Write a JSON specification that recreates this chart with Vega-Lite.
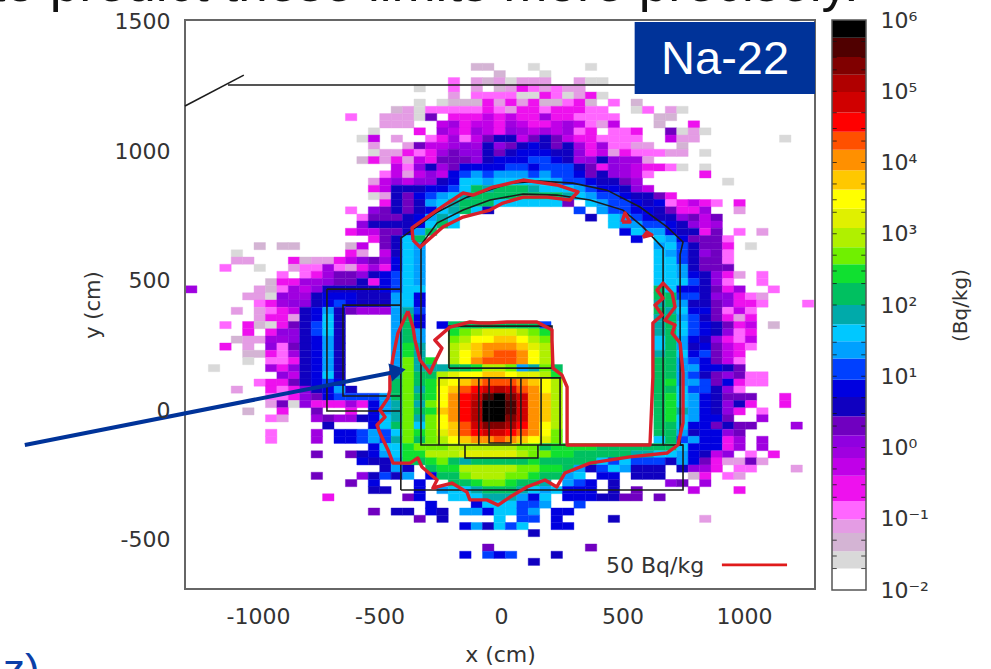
{"$schema":"https://vega.github.io/schema/vega-lite/v6.json","width":991,"height":669,"autosize":{"type":"none"},"padding":0,"background":"white","config":{"view":{"stroke":null},"font":"DejaVu Sans","axis":{"grid":false}},"resolve":{"scale":{"x":"independent","y":"independent"},"axis":{"x":"independent","y":"independent"}},"layer":[{"layer":[
{"data":{"values":[
{"x":-125,"y":1313,"v":0.05},{"x":-78,"y":1313,"v":0.05},{"x":110,"y":1313,"v":0.025},{"x":345,"y":1313,"v":0.025},
{"x":-31,"y":1285,"v":0.05},{"x":157,"y":1285,"v":0.025},
{"x":-219,"y":1258,"v":0.15},{"x":-125,"y":1258,"v":0.08},{"x":-78,"y":1258,"v":0.05},{"x":-31,"y":1258,"v":0.08},{"x":16,"y":1258,"v":0.025},{"x":63,"y":1258,"v":0.08},{"x":110,"y":1258,"v":0.08},{"x":157,"y":1258,"v":0.08},{"x":298,"y":1258,"v":0.08},{"x":345,"y":1258,"v":0.025},{"x":392,"y":1258,"v":0.025},
{"x":-360,"y":1230,"v":0.025},{"x":-219,"y":1230,"v":0.15},{"x":-125,"y":1230,"v":0.08},{"x":-31,"y":1230,"v":0.05},{"x":16,"y":1230,"v":0.08},{"x":63,"y":1230,"v":0.3},{"x":110,"y":1230,"v":0.15},{"x":157,"y":1230,"v":0.08},{"x":204,"y":1230,"v":0.15},{"x":251,"y":1230,"v":0.08},{"x":298,"y":1230,"v":0.08},
{"x":-219,"y":1202,"v":0.08},{"x":-125,"y":1202,"v":0.15},{"x":-78,"y":1202,"v":0.15},{"x":-31,"y":1202,"v":0.15},{"x":16,"y":1202,"v":0.15},{"x":63,"y":1202,"v":0.025},{"x":110,"y":1202,"v":0.025},{"x":157,"y":1202,"v":0.3},{"x":204,"y":1202,"v":0.15},{"x":251,"y":1202,"v":0.025},{"x":298,"y":1202,"v":0.08},{"x":345,"y":1202,"v":0.3},{"x":392,"y":1202,"v":0.025},
{"x":-360,"y":1175,"v":0.025},{"x":-266,"y":1175,"v":0.025},{"x":-219,"y":1175,"v":0.05},{"x":-172,"y":1175,"v":0.05},{"x":-125,"y":1175,"v":0.05},{"x":-78,"y":1175,"v":0.3},{"x":-31,"y":1175,"v":0.08},{"x":16,"y":1175,"v":0.3},{"x":63,"y":1175,"v":0.08},{"x":110,"y":1175,"v":0.3},{"x":157,"y":1175,"v":0.05},{"x":204,"y":1175,"v":0.05},{"x":251,"y":1175,"v":0.15},{"x":298,"y":1175,"v":0.3},{"x":345,"y":1175,"v":0.05},{"x":439,"y":1175,"v":0.15},{"x":533,"y":1175,"v":0.05},
{"x":-454,"y":1147,"v":0.05},{"x":-407,"y":1147,"v":0.08},{"x":-360,"y":1147,"v":0.025},{"x":-313,"y":1147,"v":0.15},{"x":-266,"y":1147,"v":0.15},{"x":-219,"y":1147,"v":0.15},{"x":-172,"y":1147,"v":0.15},{"x":-125,"y":1147,"v":0.15},{"x":-78,"y":1147,"v":0.3},{"x":-31,"y":1147,"v":0.15},{"x":16,"y":1147,"v":0.08},{"x":63,"y":1147,"v":0.3},{"x":110,"y":1147,"v":0.3},{"x":157,"y":1147,"v":0.15},{"x":204,"y":1147,"v":0.3},{"x":251,"y":1147,"v":0.3},{"x":298,"y":1147,"v":0.3},{"x":345,"y":1147,"v":0.15},{"x":392,"y":1147,"v":0.15},{"x":533,"y":1147,"v":0.025},{"x":580,"y":1147,"v":0.15},{"x":674,"y":1147,"v":0.08},{"x":721,"y":1147,"v":0.025},
{"x":-642,"y":1119,"v":0.15},{"x":-501,"y":1119,"v":0.08},{"x":-454,"y":1119,"v":0.08},{"x":-407,"y":1119,"v":0.08},{"x":-360,"y":1119,"v":0.025},{"x":-313,"y":1119,"v":2},{"x":-219,"y":1119,"v":0.3},{"x":-172,"y":1119,"v":0.3},{"x":-125,"y":1119,"v":0.3},{"x":-78,"y":1119,"v":0.5},{"x":-31,"y":1119,"v":0.3},{"x":16,"y":1119,"v":0.5},{"x":63,"y":1119,"v":0.3},{"x":110,"y":1119,"v":0.3},{"x":157,"y":1119,"v":0.8},{"x":204,"y":1119,"v":0.3},{"x":251,"y":1119,"v":0.3},{"x":298,"y":1119,"v":0.15},{"x":345,"y":1119,"v":0.15},{"x":392,"y":1119,"v":0.15},{"x":439,"y":1119,"v":0.15},{"x":627,"y":1119,"v":0.05},{"x":674,"y":1119,"v":0.05},
{"x":-501,"y":1091,"v":0.08},{"x":-454,"y":1091,"v":0.08},{"x":-407,"y":1091,"v":0.08},{"x":-266,"y":1091,"v":0.5},{"x":-219,"y":1091,"v":0.8},{"x":-172,"y":1091,"v":0.3},{"x":-125,"y":1091,"v":0.5},{"x":-78,"y":1091,"v":0.5},{"x":-31,"y":1091,"v":0.3},{"x":16,"y":1091,"v":0.8},{"x":63,"y":1091,"v":0.5},{"x":110,"y":1091,"v":0.3},{"x":157,"y":1091,"v":0.3},{"x":204,"y":1091,"v":0.5},{"x":251,"y":1091,"v":0.8},{"x":298,"y":1091,"v":0.5},{"x":345,"y":1091,"v":0.15},{"x":392,"y":1091,"v":0.08},{"x":439,"y":1091,"v":0.5},{"x":627,"y":1091,"v":0.05},{"x":768,"y":1091,"v":0.3},
{"x":-548,"y":1064,"v":0.025},{"x":-360,"y":1064,"v":0.3},{"x":-266,"y":1064,"v":0.8},{"x":-219,"y":1064,"v":0.5},{"x":-172,"y":1064,"v":0.3},{"x":-125,"y":1064,"v":0.8},{"x":-78,"y":1064,"v":0.5},{"x":-31,"y":1064,"v":0.3},{"x":16,"y":1064,"v":1.2},{"x":63,"y":1064,"v":0.8},{"x":110,"y":1064,"v":0.5},{"x":157,"y":1064,"v":0.8},{"x":204,"y":1064,"v":0.5},{"x":251,"y":1064,"v":0.8},{"x":298,"y":1064,"v":0.15},{"x":345,"y":1064,"v":0.3},{"x":439,"y":1064,"v":0.15},{"x":486,"y":1064,"v":0.15},{"x":533,"y":1064,"v":0.3},{"x":674,"y":1064,"v":2},{"x":721,"y":1064,"v":0.025},{"x":768,"y":1064,"v":0.08},{"x":815,"y":1064,"v":0.025},
{"x":-595,"y":1036,"v":0.025},{"x":-548,"y":1036,"v":0.5},{"x":-454,"y":1036,"v":0.08},{"x":-313,"y":1036,"v":0.15},{"x":-266,"y":1036,"v":0.3},{"x":-219,"y":1036,"v":0.8},{"x":-172,"y":1036,"v":0.15},{"x":-125,"y":1036,"v":0.5},{"x":-78,"y":1036,"v":2},{"x":-31,"y":1036,"v":4},{"x":16,"y":1036,"v":4},{"x":63,"y":1036,"v":0.5},{"x":110,"y":1036,"v":2},{"x":157,"y":1036,"v":4},{"x":204,"y":1036,"v":2},{"x":251,"y":1036,"v":0.5},{"x":298,"y":1036,"v":0.3},{"x":345,"y":1036,"v":0.3},{"x":392,"y":1036,"v":0.15},{"x":439,"y":1036,"v":0.15},{"x":486,"y":1036,"v":0.15},{"x":533,"y":1036,"v":0.15},{"x":674,"y":1036,"v":0.5},{"x":721,"y":1036,"v":0.08},{"x":768,"y":1036,"v":0.08},{"x":1144,"y":1036,"v":0.025},
{"x":-548,"y":1008,"v":0.08},{"x":-407,"y":1008,"v":0.08},{"x":-360,"y":1008,"v":2},{"x":-313,"y":1008,"v":0.5},{"x":-266,"y":1008,"v":0.5},{"x":-219,"y":1008,"v":0.8},{"x":-172,"y":1008,"v":1.2},{"x":-125,"y":1008,"v":0.8},{"x":-78,"y":1008,"v":4},{"x":-31,"y":1008,"v":1.2},{"x":16,"y":1008,"v":2},{"x":63,"y":1008,"v":4},{"x":110,"y":1008,"v":7},{"x":157,"y":1008,"v":4},{"x":204,"y":1008,"v":2},{"x":251,"y":1008,"v":4},{"x":298,"y":1008,"v":0.8},{"x":345,"y":1008,"v":0.3},{"x":392,"y":1008,"v":0.8},{"x":439,"y":1008,"v":0.15},{"x":486,"y":1008,"v":0.15},{"x":533,"y":1008,"v":0.08},{"x":580,"y":1008,"v":0.08},{"x":721,"y":1008,"v":0.05},
{"x":-548,"y":981,"v":0.025},{"x":-501,"y":981,"v":0.08},{"x":-454,"y":981,"v":0.08},{"x":-407,"y":981,"v":0.3},{"x":-360,"y":981,"v":0.15},{"x":-313,"y":981,"v":0.3},{"x":-266,"y":981,"v":0.8},{"x":-219,"y":981,"v":2},{"x":-172,"y":981,"v":1.2},{"x":-125,"y":981,"v":1.2},{"x":-78,"y":981,"v":4},{"x":-31,"y":981,"v":2},{"x":16,"y":981,"v":4},{"x":63,"y":981,"v":7},{"x":110,"y":981,"v":7},{"x":157,"y":981,"v":7},{"x":204,"y":981,"v":4},{"x":251,"y":981,"v":4},{"x":298,"y":981,"v":1.2},{"x":345,"y":981,"v":0.3},{"x":392,"y":981,"v":0.5},{"x":439,"y":981,"v":0.08},{"x":486,"y":981,"v":0.3},{"x":533,"y":981,"v":0.15},{"x":580,"y":981,"v":0.15},{"x":627,"y":981,"v":0.15},{"x":674,"y":981,"v":0.08},{"x":721,"y":981,"v":0.08},{"x":815,"y":981,"v":0.025},
{"x":-595,"y":953,"v":0.05},{"x":-548,"y":953,"v":0.3},{"x":-501,"y":953,"v":0.08},{"x":-454,"y":953,"v":0.3},{"x":-407,"y":953,"v":0.08},{"x":-360,"y":953,"v":0.5},{"x":-313,"y":953,"v":0.3},{"x":-266,"y":953,"v":2},{"x":-219,"y":953,"v":2},{"x":-172,"y":953,"v":2},{"x":-125,"y":953,"v":1.2},{"x":-78,"y":953,"v":4},{"x":-31,"y":953,"v":7},{"x":16,"y":953,"v":7},{"x":63,"y":953,"v":7},{"x":110,"y":953,"v":13},{"x":157,"y":953,"v":13},{"x":204,"y":953,"v":7},{"x":251,"y":953,"v":4},{"x":298,"y":953,"v":0.8},{"x":345,"y":953,"v":1.2},{"x":392,"y":953,"v":4},{"x":439,"y":953,"v":1.2},{"x":486,"y":953,"v":0.8},{"x":533,"y":953,"v":0.8},{"x":580,"y":953,"v":0.08},
{"x":-454,"y":925,"v":0.5},{"x":-407,"y":925,"v":0.15},{"x":-360,"y":925,"v":1.2},{"x":-313,"y":925,"v":4},{"x":-266,"y":925,"v":0.8},{"x":-219,"y":925,"v":2},{"x":-172,"y":925,"v":7},{"x":-125,"y":925,"v":7},{"x":-78,"y":925,"v":7},{"x":-31,"y":925,"v":7},{"x":16,"y":925,"v":13},{"x":63,"y":925,"v":13},{"x":110,"y":925,"v":7},{"x":157,"y":925,"v":13},{"x":204,"y":925,"v":13},{"x":251,"y":925,"v":13},{"x":298,"y":925,"v":4},{"x":345,"y":925,"v":2},{"x":392,"y":925,"v":0.3},{"x":439,"y":925,"v":1.2},{"x":486,"y":925,"v":0.8},{"x":533,"y":925,"v":0.5},{"x":580,"y":925,"v":0.3},{"x":627,"y":925,"v":0.3},{"x":674,"y":925,"v":0.15},{"x":721,"y":925,"v":0.025},{"x":815,"y":925,"v":0.025},
{"x":-501,"y":898,"v":0.15},{"x":-454,"y":898,"v":0.5},{"x":-407,"y":898,"v":0.08},{"x":-360,"y":898,"v":0.5},{"x":-313,"y":898,"v":1.2},{"x":-266,"y":898,"v":0.5},{"x":-219,"y":898,"v":7},{"x":-172,"y":898,"v":13},{"x":-125,"y":898,"v":22},{"x":-78,"y":898,"v":13},{"x":-31,"y":898,"v":22},{"x":16,"y":898,"v":22},{"x":63,"y":898,"v":22},{"x":110,"y":898,"v":13},{"x":157,"y":898,"v":22},{"x":204,"y":898,"v":13},{"x":251,"y":898,"v":13},{"x":298,"y":898,"v":7},{"x":345,"y":898,"v":2},{"x":392,"y":898,"v":4},{"x":439,"y":898,"v":1.2},{"x":486,"y":898,"v":0.8},{"x":533,"y":898,"v":0.5},{"x":580,"y":898,"v":0.15},{"x":815,"y":898,"v":0.3},
{"x":-548,"y":870,"v":0.08},{"x":-501,"y":870,"v":0.5},{"x":-454,"y":870,"v":1.2},{"x":-407,"y":870,"v":0.5},{"x":-360,"y":870,"v":1.2},{"x":-313,"y":870,"v":1.2},{"x":-266,"y":870,"v":4},{"x":-219,"y":870,"v":7},{"x":-172,"y":870,"v":40},{"x":-125,"y":870,"v":40},{"x":-78,"y":870,"v":22},{"x":-31,"y":870,"v":40},{"x":16,"y":870,"v":40},{"x":63,"y":870,"v":40},{"x":110,"y":870,"v":40},{"x":157,"y":870,"v":40},{"x":204,"y":870,"v":22},{"x":251,"y":870,"v":13},{"x":298,"y":870,"v":13},{"x":345,"y":870,"v":7},{"x":392,"y":870,"v":4},{"x":439,"y":870,"v":4},{"x":486,"y":870,"v":2},{"x":533,"y":870,"v":0.8},{"x":909,"y":870,"v":0.025},
{"x":-548,"y":842,"v":0.3},{"x":-501,"y":842,"v":0.5},{"x":-454,"y":842,"v":4},{"x":-407,"y":842,"v":4},{"x":-360,"y":842,"v":4},{"x":-313,"y":842,"v":7},{"x":-266,"y":842,"v":7},{"x":-219,"y":842,"v":13},{"x":-172,"y":842,"v":40},{"x":-125,"y":842,"v":150},{"x":-78,"y":842,"v":70},{"x":-31,"y":842,"v":150},{"x":16,"y":842,"v":150},{"x":63,"y":842,"v":150},{"x":110,"y":842,"v":70},{"x":157,"y":842,"v":40},{"x":204,"y":842,"v":40},{"x":251,"y":842,"v":40},{"x":298,"y":842,"v":22},{"x":345,"y":842,"v":13},{"x":392,"y":842,"v":7},{"x":439,"y":842,"v":7},{"x":486,"y":842,"v":4},{"x":533,"y":842,"v":1.2},{"x":580,"y":842,"v":0.5},
{"x":-548,"y":814,"v":0.025},{"x":-501,"y":814,"v":0.08},{"x":-454,"y":814,"v":4},{"x":-407,"y":814,"v":2},{"x":-360,"y":814,"v":7},{"x":-313,"y":814,"v":13},{"x":-266,"y":814,"v":22},{"x":-219,"y":814,"v":40},{"x":-172,"y":814,"v":70},{"x":-125,"y":814,"v":150},{"x":-78,"y":814,"v":150},{"x":-31,"y":814,"v":150},{"x":16,"y":814,"v":150},{"x":63,"y":814,"v":150},{"x":110,"y":814,"v":150},{"x":157,"y":814,"v":150},{"x":204,"y":814,"v":150},{"x":251,"y":814,"v":70},{"x":298,"y":814,"v":40},{"x":345,"y":814,"v":22},{"x":392,"y":814,"v":13},{"x":439,"y":814,"v":13},{"x":486,"y":814,"v":7},{"x":533,"y":814,"v":4},{"x":580,"y":814,"v":4},{"x":627,"y":814,"v":2},{"x":674,"y":814,"v":0.3},
{"x":-501,"y":787,"v":0.3},{"x":-454,"y":787,"v":4},{"x":-407,"y":787,"v":2},{"x":-360,"y":787,"v":4},{"x":-313,"y":787,"v":22},{"x":-266,"y":787,"v":40},{"x":-219,"y":787,"v":70},{"x":-172,"y":787,"v":150},{"x":-125,"y":787,"v":150},{"x":-78,"y":787,"v":150},{"x":-31,"y":787,"v":40},{"x":16,"y":787,"v":40},{"x":63,"y":787,"v":40},{"x":110,"y":787,"v":40},{"x":157,"y":787,"v":40},{"x":204,"y":787,"v":40},{"x":251,"y":787,"v":2},{"x":345,"y":787,"v":40},{"x":392,"y":787,"v":22},{"x":439,"y":787,"v":13},{"x":486,"y":787,"v":13},{"x":533,"y":787,"v":7},{"x":580,"y":787,"v":4},{"x":627,"y":787,"v":7},{"x":674,"y":787,"v":0.15},{"x":721,"y":787,"v":0.3},{"x":768,"y":787,"v":0.5},{"x":815,"y":787,"v":0.3},{"x":862,"y":787,"v":0.15},{"x":956,"y":787,"v":0.3},
{"x":-642,"y":759,"v":0.15},{"x":-548,"y":759,"v":1.2},{"x":-501,"y":759,"v":2},{"x":-454,"y":759,"v":4},{"x":-407,"y":759,"v":2},{"x":-360,"y":759,"v":4},{"x":-313,"y":759,"v":7},{"x":-266,"y":759,"v":40},{"x":-219,"y":759,"v":70},{"x":-172,"y":759,"v":150},{"x":-125,"y":759,"v":40},{"x":-78,"y":759,"v":4},{"x":298,"y":759,"v":13},{"x":392,"y":759,"v":22},{"x":439,"y":759,"v":13},{"x":486,"y":759,"v":13},{"x":533,"y":759,"v":7},{"x":580,"y":759,"v":7},{"x":627,"y":759,"v":4},{"x":674,"y":759,"v":2},{"x":721,"y":759,"v":0.3},{"x":768,"y":759,"v":0.3},{"x":815,"y":759,"v":0.8},{"x":956,"y":759,"v":0.08},
{"x":-595,"y":731,"v":0.15},{"x":-548,"y":731,"v":2},{"x":-501,"y":731,"v":2},{"x":-454,"y":731,"v":2},{"x":-407,"y":731,"v":4},{"x":-360,"y":731,"v":7},{"x":-313,"y":731,"v":22},{"x":-266,"y":731,"v":70},{"x":-219,"y":731,"v":40},{"x":345,"y":731,"v":4},{"x":439,"y":731,"v":40},{"x":486,"y":731,"v":22},{"x":533,"y":731,"v":13},{"x":580,"y":731,"v":7},{"x":627,"y":731,"v":4},{"x":674,"y":731,"v":4},{"x":721,"y":731,"v":1.2},{"x":768,"y":731,"v":2},{"x":815,"y":731,"v":0.5},{"x":862,"y":731,"v":2},
{"x":-595,"y":704,"v":1.2},{"x":-548,"y":704,"v":4},{"x":-501,"y":704,"v":4},{"x":-454,"y":704,"v":4},{"x":-407,"y":704,"v":4},{"x":-360,"y":704,"v":7},{"x":-313,"y":704,"v":40},{"x":-266,"y":704,"v":150},{"x":-219,"y":704,"v":40},{"x":439,"y":704,"v":40},{"x":486,"y":704,"v":22},{"x":533,"y":704,"v":22},{"x":580,"y":704,"v":13},{"x":627,"y":704,"v":13},{"x":674,"y":704,"v":7},{"x":721,"y":704,"v":4},{"x":768,"y":704,"v":1.2},{"x":815,"y":704,"v":0.5},{"x":862,"y":704,"v":0.8},
{"x":-642,"y":676,"v":0.3},{"x":-595,"y":676,"v":0.5},{"x":-548,"y":676,"v":0.5},{"x":-501,"y":676,"v":2},{"x":-454,"y":676,"v":2},{"x":-407,"y":676,"v":4},{"x":-360,"y":676,"v":22},{"x":-313,"y":676,"v":150},{"x":486,"y":676,"v":7},{"x":533,"y":676,"v":40},{"x":580,"y":676,"v":22},{"x":627,"y":676,"v":22},{"x":674,"y":676,"v":7},{"x":721,"y":676,"v":4},{"x":768,"y":676,"v":4},{"x":815,"y":676,"v":0.3},{"x":862,"y":676,"v":2},{"x":956,"y":676,"v":0.15},{"x":1050,"y":676,"v":0.08},
{"x":-548,"y":648,"v":0.3},{"x":-501,"y":648,"v":2},{"x":-454,"y":648,"v":4},{"x":-407,"y":648,"v":40},{"x":-360,"y":648,"v":150},{"x":533,"y":648,"v":7},{"x":627,"y":648,"v":40},{"x":674,"y":648,"v":22},{"x":721,"y":648,"v":7},{"x":768,"y":648,"v":2},{"x":815,"y":648,"v":2},{"x":862,"y":648,"v":2},{"x":909,"y":648,"v":0.15},
{"x":-1018,"y":621,"v":0.05},{"x":-924,"y":621,"v":0.05},{"x":-877,"y":621,"v":0.05},{"x":-642,"y":621,"v":0.05},{"x":-595,"y":621,"v":0.5},{"x":-501,"y":621,"v":2},{"x":-454,"y":621,"v":4},{"x":-407,"y":621,"v":40},{"x":-360,"y":621,"v":22},{"x":627,"y":621,"v":22},{"x":674,"y":621,"v":40},{"x":721,"y":621,"v":13},{"x":768,"y":621,"v":4},{"x":815,"y":621,"v":2},{"x":862,"y":621,"v":2},{"x":909,"y":621,"v":0.3},{"x":1003,"y":621,"v":0.025},
{"x":-1112,"y":593,"v":0.025},{"x":-642,"y":593,"v":0.3},{"x":-595,"y":593,"v":0.08},{"x":-501,"y":593,"v":0.5},{"x":-454,"y":593,"v":4},{"x":-407,"y":593,"v":40},{"x":-360,"y":593,"v":22},{"x":627,"y":593,"v":40},{"x":674,"y":593,"v":22},{"x":721,"y":593,"v":13},{"x":768,"y":593,"v":4},{"x":815,"y":593,"v":1.2},{"x":862,"y":593,"v":2},{"x":909,"y":593,"v":0.15},
{"x":-1112,"y":565,"v":0.08},{"x":-1065,"y":565,"v":0.08},{"x":-877,"y":565,"v":0.3},{"x":-830,"y":565,"v":0.05},{"x":-783,"y":565,"v":0.08},{"x":-736,"y":565,"v":0.08},{"x":-689,"y":565,"v":0.3},{"x":-642,"y":565,"v":0.5},{"x":-595,"y":565,"v":1.2},{"x":-548,"y":565,"v":2},{"x":-501,"y":565,"v":0.8},{"x":-454,"y":565,"v":7},{"x":-407,"y":565,"v":40},{"x":-360,"y":565,"v":22},{"x":627,"y":565,"v":40},{"x":674,"y":565,"v":40},{"x":721,"y":565,"v":13},{"x":768,"y":565,"v":4},{"x":815,"y":565,"v":2},{"x":862,"y":565,"v":2},{"x":909,"y":565,"v":0.15},
{"x":-1159,"y":537,"v":0.15},{"x":-1018,"y":537,"v":0.025},{"x":-877,"y":537,"v":0.08},{"x":-830,"y":537,"v":0.15},{"x":-783,"y":537,"v":0.15},{"x":-736,"y":537,"v":0.8},{"x":-689,"y":537,"v":0.15},{"x":-642,"y":537,"v":0.08},{"x":-595,"y":537,"v":0.3},{"x":-548,"y":537,"v":0.8},{"x":-501,"y":537,"v":0.3},{"x":-454,"y":537,"v":7},{"x":-407,"y":537,"v":40},{"x":-360,"y":537,"v":22},{"x":627,"y":537,"v":40},{"x":674,"y":537,"v":40},{"x":721,"y":537,"v":22},{"x":768,"y":537,"v":4},{"x":815,"y":537,"v":2},{"x":862,"y":537,"v":2},{"x":909,"y":537,"v":2},
{"x":-924,"y":510,"v":0.15},{"x":-830,"y":510,"v":0.15},{"x":-783,"y":510,"v":0.3},{"x":-736,"y":510,"v":0.8},{"x":-689,"y":510,"v":2},{"x":-642,"y":510,"v":2},{"x":-595,"y":510,"v":1.2},{"x":-548,"y":510,"v":4},{"x":-501,"y":510,"v":7},{"x":-454,"y":510,"v":13},{"x":-407,"y":510,"v":40},{"x":-360,"y":510,"v":22},{"x":627,"y":510,"v":40},{"x":674,"y":510,"v":40},{"x":721,"y":510,"v":22},{"x":768,"y":510,"v":7},{"x":815,"y":510,"v":4},{"x":862,"y":510,"v":1.2},{"x":909,"y":510,"v":0.3},{"x":956,"y":510,"v":0.08},{"x":1050,"y":510,"v":0.15},
{"x":-971,"y":482,"v":0.05},{"x":-924,"y":482,"v":0.3},{"x":-877,"y":482,"v":0.3},{"x":-830,"y":482,"v":0.8},{"x":-783,"y":482,"v":0.8},{"x":-736,"y":482,"v":1.2},{"x":-689,"y":482,"v":2},{"x":-642,"y":482,"v":2},{"x":-595,"y":482,"v":4},{"x":-548,"y":482,"v":0.3},{"x":-501,"y":482,"v":7},{"x":-454,"y":482,"v":13},{"x":-407,"y":482,"v":40},{"x":-360,"y":482,"v":22},{"x":627,"y":482,"v":40},{"x":674,"y":482,"v":40},{"x":721,"y":482,"v":40},{"x":768,"y":482,"v":13},{"x":815,"y":482,"v":4},{"x":862,"y":482,"v":1.2},{"x":909,"y":482,"v":0.15},{"x":1050,"y":482,"v":0.15},
{"x":-1300,"y":454,"v":0.8},{"x":-1018,"y":454,"v":0.08},{"x":-971,"y":454,"v":0.05},{"x":-924,"y":454,"v":0.15},{"x":-877,"y":454,"v":0.8},{"x":-830,"y":454,"v":0.5},{"x":-783,"y":454,"v":1.2},{"x":-736,"y":454,"v":4},{"x":-689,"y":454,"v":4},{"x":-642,"y":454,"v":4},{"x":-595,"y":454,"v":4},{"x":-548,"y":454,"v":4},{"x":-501,"y":454,"v":7},{"x":-454,"y":454,"v":13},{"x":-407,"y":454,"v":40},{"x":-360,"y":454,"v":40},{"x":627,"y":454,"v":150},{"x":674,"y":454,"v":40},{"x":721,"y":454,"v":7},{"x":768,"y":454,"v":7},{"x":815,"y":454,"v":4},{"x":862,"y":454,"v":2},{"x":909,"y":454,"v":0.3},{"x":956,"y":454,"v":0.8},{"x":1097,"y":454,"v":0.15},
{"x":-1065,"y":427,"v":0.08},{"x":-1018,"y":427,"v":0.08},{"x":-971,"y":427,"v":0.025},{"x":-924,"y":427,"v":1.2},{"x":-877,"y":427,"v":0.8},{"x":-830,"y":427,"v":0.8},{"x":-783,"y":427,"v":4},{"x":-736,"y":427,"v":7},{"x":-689,"y":427,"v":7},{"x":-642,"y":427,"v":7},{"x":-595,"y":427,"v":4},{"x":-548,"y":427,"v":4},{"x":-501,"y":427,"v":4},{"x":-454,"y":427,"v":22},{"x":-407,"y":427,"v":40},{"x":-360,"y":427,"v":7},{"x":627,"y":427,"v":150},{"x":674,"y":427,"v":150},{"x":721,"y":427,"v":13},{"x":768,"y":427,"v":13},{"x":815,"y":427,"v":4},{"x":862,"y":427,"v":1.2},{"x":909,"y":427,"v":1.2},{"x":956,"y":427,"v":0.3},{"x":1003,"y":427,"v":0.15},{"x":1050,"y":427,"v":0.08},
{"x":-1018,"y":399,"v":0.15},{"x":-971,"y":399,"v":0.3},{"x":-924,"y":399,"v":0.8},{"x":-877,"y":399,"v":1.2},{"x":-830,"y":399,"v":1.2},{"x":-783,"y":399,"v":4},{"x":-736,"y":399,"v":7},{"x":-689,"y":399,"v":13},{"x":-642,"y":399,"v":7},{"x":-595,"y":399,"v":4},{"x":-548,"y":399,"v":4},{"x":-501,"y":399,"v":4},{"x":-454,"y":399,"v":22},{"x":-407,"y":399,"v":40},{"x":-360,"y":399,"v":7},{"x":627,"y":399,"v":70},{"x":674,"y":399,"v":150},{"x":721,"y":399,"v":22},{"x":768,"y":399,"v":4},{"x":815,"y":399,"v":4},{"x":862,"y":399,"v":2},{"x":909,"y":399,"v":1.2},{"x":956,"y":399,"v":0.3},{"x":1003,"y":399,"v":0.3},{"x":1050,"y":399,"v":0.15},{"x":1238,"y":399,"v":0.15},
{"x":-1112,"y":371,"v":0.08},{"x":-1018,"y":371,"v":0.08},{"x":-971,"y":371,"v":0.15},{"x":-924,"y":371,"v":0.3},{"x":-877,"y":371,"v":0.5},{"x":-830,"y":371,"v":4},{"x":-783,"y":371,"v":7},{"x":-736,"y":371,"v":22},{"x":-689,"y":371,"v":4},{"x":-642,"y":371,"v":2},{"x":-595,"y":371,"v":0.8},{"x":-548,"y":371,"v":0.8},{"x":-501,"y":371,"v":0.8},{"x":-454,"y":371,"v":22},{"x":-407,"y":371,"v":70},{"x":-360,"y":371,"v":13},{"x":627,"y":371,"v":150},{"x":674,"y":371,"v":70},{"x":721,"y":371,"v":40},{"x":768,"y":371,"v":7},{"x":815,"y":371,"v":7},{"x":862,"y":371,"v":2},{"x":909,"y":371,"v":0.15},{"x":956,"y":371,"v":0.5},{"x":1003,"y":371,"v":0.15},
{"x":-1018,"y":344,"v":0.08},{"x":-971,"y":344,"v":0.3},{"x":-924,"y":344,"v":0.3},{"x":-877,"y":344,"v":0.08},{"x":-830,"y":344,"v":4},{"x":-783,"y":344,"v":7},{"x":-736,"y":344,"v":40},{"x":-689,"y":344,"v":4},{"x":-454,"y":344,"v":22},{"x":-407,"y":344,"v":150},{"x":-360,"y":344,"v":7},{"x":627,"y":344,"v":70},{"x":674,"y":344,"v":150},{"x":721,"y":344,"v":22},{"x":768,"y":344,"v":13},{"x":815,"y":344,"v":4},{"x":862,"y":344,"v":2},{"x":909,"y":344,"v":0.3},{"x":956,"y":344,"v":0.08},{"x":1003,"y":344,"v":0.3},
{"x":-1159,"y":316,"v":0.15},{"x":-1065,"y":316,"v":0.3},{"x":-1018,"y":316,"v":0.05},{"x":-971,"y":316,"v":0.025},{"x":-924,"y":316,"v":0.3},{"x":-877,"y":316,"v":2},{"x":-830,"y":316,"v":4},{"x":-783,"y":316,"v":13},{"x":-736,"y":316,"v":40},{"x":-689,"y":316,"v":4},{"x":-454,"y":316,"v":22},{"x":-407,"y":316,"v":150},{"x":-360,"y":316,"v":7},{"x":-266,"y":316,"v":7},{"x":-219,"y":316,"v":150},{"x":-172,"y":316,"v":150},{"x":-125,"y":316,"v":150},{"x":-78,"y":316,"v":150},{"x":-31,"y":316,"v":150},{"x":16,"y":316,"v":150},{"x":63,"y":316,"v":150},{"x":110,"y":316,"v":150},{"x":157,"y":316,"v":13},{"x":627,"y":316,"v":70},{"x":674,"y":316,"v":150},{"x":721,"y":316,"v":40},{"x":768,"y":316,"v":13},{"x":815,"y":316,"v":7},{"x":862,"y":316,"v":4},{"x":909,"y":316,"v":2},{"x":956,"y":316,"v":0.3},{"x":1003,"y":316,"v":0.5},{"x":1097,"y":316,"v":0.05},
{"x":-1065,"y":288,"v":0.3},{"x":-971,"y":288,"v":0.3},{"x":-924,"y":288,"v":1.2},{"x":-877,"y":288,"v":1.2},{"x":-830,"y":288,"v":4},{"x":-783,"y":288,"v":13},{"x":-736,"y":288,"v":40},{"x":-689,"y":288,"v":4},{"x":-454,"y":288,"v":22},{"x":-407,"y":288,"v":150},{"x":-360,"y":288,"v":22},{"x":-219,"y":288,"v":270},{"x":-172,"y":288,"v":500},{"x":-125,"y":288,"v":800},{"x":-78,"y":288,"v":1600},{"x":-31,"y":288,"v":1600},{"x":16,"y":288,"v":1600},{"x":63,"y":288,"v":800},{"x":110,"y":288,"v":500},{"x":157,"y":288,"v":270},{"x":627,"y":288,"v":70},{"x":674,"y":288,"v":150},{"x":721,"y":288,"v":40},{"x":768,"y":288,"v":13},{"x":815,"y":288,"v":7},{"x":862,"y":288,"v":4},{"x":909,"y":288,"v":1.2},{"x":956,"y":288,"v":0.15},{"x":1003,"y":288,"v":0.3},
{"x":-1112,"y":260,"v":0.05},{"x":-1065,"y":260,"v":0.08},{"x":-1018,"y":260,"v":0.08},{"x":-971,"y":260,"v":0.8},{"x":-924,"y":260,"v":0.8},{"x":-877,"y":260,"v":1.2},{"x":-830,"y":260,"v":4},{"x":-783,"y":260,"v":7},{"x":-736,"y":260,"v":22},{"x":-689,"y":260,"v":4},{"x":-454,"y":260,"v":22},{"x":-407,"y":260,"v":150},{"x":-360,"y":260,"v":22},{"x":-219,"y":260,"v":500},{"x":-172,"y":260,"v":800},{"x":-125,"y":260,"v":3000},{"x":-78,"y":260,"v":3000},{"x":-31,"y":260,"v":6000},{"x":16,"y":260,"v":6000},{"x":63,"y":260,"v":3000},{"x":110,"y":260,"v":800},{"x":157,"y":260,"v":500},{"x":627,"y":260,"v":40},{"x":674,"y":260,"v":150},{"x":721,"y":260,"v":22},{"x":768,"y":260,"v":7},{"x":815,"y":260,"v":4},{"x":862,"y":260,"v":1.2},{"x":909,"y":260,"v":0.3},{"x":956,"y":260,"v":0.15},{"x":1003,"y":260,"v":0.5},
{"x":-1159,"y":233,"v":0.3},{"x":-1065,"y":233,"v":0.08},{"x":-971,"y":233,"v":1.2},{"x":-924,"y":233,"v":0.15},{"x":-877,"y":233,"v":2},{"x":-830,"y":233,"v":4},{"x":-783,"y":233,"v":7},{"x":-736,"y":233,"v":22},{"x":-689,"y":233,"v":4},{"x":-454,"y":233,"v":22},{"x":-407,"y":233,"v":270},{"x":-360,"y":233,"v":70},{"x":-219,"y":233,"v":800},{"x":-172,"y":233,"v":1600},{"x":-125,"y":233,"v":6000},{"x":-78,"y":233,"v":10000},{"x":-31,"y":233,"v":10000},{"x":16,"y":233,"v":10000},{"x":63,"y":233,"v":6000},{"x":110,"y":233,"v":1600},{"x":157,"y":233,"v":800},{"x":627,"y":233,"v":40},{"x":674,"y":233,"v":150},{"x":721,"y":233,"v":22},{"x":768,"y":233,"v":4},{"x":815,"y":233,"v":7},{"x":862,"y":233,"v":2},{"x":909,"y":233,"v":0.5},{"x":956,"y":233,"v":0.3},{"x":1003,"y":233,"v":0.15},
{"x":-1065,"y":205,"v":0.05},{"x":-1018,"y":205,"v":0.05},{"x":-971,"y":205,"v":0.3},{"x":-924,"y":205,"v":0.15},{"x":-877,"y":205,"v":0.8},{"x":-830,"y":205,"v":4},{"x":-783,"y":205,"v":7},{"x":-736,"y":205,"v":22},{"x":-689,"y":205,"v":4},{"x":-454,"y":205,"v":22},{"x":-407,"y":205,"v":270},{"x":-360,"y":205,"v":70},{"x":-219,"y":205,"v":800},{"x":-172,"y":205,"v":3000},{"x":-125,"y":205,"v":6000},{"x":-78,"y":205,"v":10000},{"x":-31,"y":205,"v":20000},{"x":16,"y":205,"v":20000},{"x":63,"y":205,"v":10000},{"x":110,"y":205,"v":3000},{"x":157,"y":205,"v":800},{"x":627,"y":205,"v":70},{"x":674,"y":205,"v":150},{"x":721,"y":205,"v":40},{"x":768,"y":205,"v":7},{"x":815,"y":205,"v":13},{"x":862,"y":205,"v":2},{"x":909,"y":205,"v":0.5},{"x":956,"y":205,"v":0.3},
{"x":-1065,"y":177,"v":0.025},{"x":-971,"y":177,"v":0.15},{"x":-924,"y":177,"v":0.15},{"x":-877,"y":177,"v":0.3},{"x":-830,"y":177,"v":4},{"x":-783,"y":177,"v":7},{"x":-736,"y":177,"v":22},{"x":-689,"y":177,"v":4},{"x":-454,"y":177,"v":22},{"x":-407,"y":177,"v":500},{"x":-360,"y":177,"v":70},{"x":-313,"y":177,"v":270},{"x":-219,"y":177,"v":800},{"x":-172,"y":177,"v":3000},{"x":-125,"y":177,"v":10000},{"x":-78,"y":177,"v":20000},{"x":-31,"y":177,"v":20000},{"x":16,"y":177,"v":20000},{"x":63,"y":177,"v":10000},{"x":110,"y":177,"v":3000},{"x":157,"y":177,"v":800},{"x":627,"y":177,"v":150},{"x":674,"y":177,"v":150},{"x":721,"y":177,"v":22},{"x":768,"y":177,"v":13},{"x":815,"y":177,"v":7},{"x":862,"y":177,"v":2},{"x":909,"y":177,"v":0.5},{"x":956,"y":177,"v":0.15},
{"x":-1206,"y":150,"v":0.025},{"x":-971,"y":150,"v":0.8},{"x":-924,"y":150,"v":0.3},{"x":-877,"y":150,"v":1.2},{"x":-830,"y":150,"v":4},{"x":-783,"y":150,"v":7},{"x":-736,"y":150,"v":22},{"x":-689,"y":150,"v":4},{"x":-454,"y":150,"v":22},{"x":-407,"y":150,"v":500},{"x":-360,"y":150,"v":70},{"x":-313,"y":150,"v":70},{"x":-266,"y":150,"v":70},{"x":-219,"y":150,"v":150},{"x":-172,"y":150,"v":150},{"x":-125,"y":150,"v":270},{"x":-78,"y":150,"v":800},{"x":-31,"y":150,"v":800},{"x":16,"y":150,"v":500},{"x":63,"y":150,"v":22},{"x":110,"y":150,"v":70},{"x":157,"y":150,"v":500},{"x":204,"y":150,"v":150},{"x":627,"y":150,"v":150},{"x":674,"y":150,"v":150},{"x":721,"y":150,"v":22},{"x":768,"y":150,"v":22},{"x":815,"y":150,"v":7},{"x":862,"y":150,"v":7},{"x":909,"y":150,"v":4},{"x":956,"y":150,"v":2},
{"x":-924,"y":122,"v":1.2},{"x":-877,"y":122,"v":0.5},{"x":-830,"y":122,"v":4},{"x":-783,"y":122,"v":7},{"x":-736,"y":122,"v":40},{"x":-689,"y":122,"v":4},{"x":-454,"y":122,"v":70},{"x":-407,"y":122,"v":500},{"x":-360,"y":122,"v":150},{"x":-313,"y":122,"v":150},{"x":-266,"y":122,"v":800},{"x":-219,"y":122,"v":1600},{"x":-172,"y":122,"v":3000},{"x":-125,"y":122,"v":3000},{"x":-78,"y":122,"v":6000},{"x":-31,"y":122,"v":6000},{"x":16,"y":122,"v":3000},{"x":63,"y":122,"v":1600},{"x":110,"y":122,"v":1600},{"x":157,"y":122,"v":800},{"x":204,"y":122,"v":270},{"x":627,"y":122,"v":150},{"x":674,"y":122,"v":150},{"x":721,"y":122,"v":22},{"x":768,"y":122,"v":13},{"x":815,"y":122,"v":4},{"x":862,"y":122,"v":2},{"x":909,"y":122,"v":1.2},{"x":956,"y":122,"v":2},{"x":1003,"y":122,"v":0.15},{"x":1050,"y":122,"v":0.15},
{"x":-1018,"y":94,"v":0.15},{"x":-971,"y":94,"v":0.3},{"x":-924,"y":94,"v":0.3},{"x":-877,"y":94,"v":2},{"x":-830,"y":94,"v":4},{"x":-783,"y":94,"v":7},{"x":-736,"y":94,"v":13},{"x":-689,"y":94,"v":7},{"x":-454,"y":94,"v":150},{"x":-407,"y":94,"v":500},{"x":-360,"y":94,"v":150},{"x":-313,"y":94,"v":270},{"x":-266,"y":94,"v":1600},{"x":-219,"y":94,"v":3000},{"x":-172,"y":94,"v":6000},{"x":-125,"y":94,"v":10000},{"x":-78,"y":94,"v":20000},{"x":-31,"y":94,"v":20000},{"x":16,"y":94,"v":20000},{"x":63,"y":94,"v":10000},{"x":110,"y":94,"v":6000},{"x":157,"y":94,"v":3000},{"x":204,"y":94,"v":800},{"x":627,"y":94,"v":150},{"x":674,"y":94,"v":270},{"x":721,"y":94,"v":22},{"x":768,"y":94,"v":22},{"x":815,"y":94,"v":13},{"x":862,"y":94,"v":2},{"x":909,"y":94,"v":7},{"x":956,"y":94,"v":0.3},{"x":1003,"y":94,"v":0.15},{"x":1050,"y":94,"v":0.15},
{"x":-1112,"y":67,"v":0.08},{"x":-971,"y":67,"v":0.3},{"x":-924,"y":67,"v":0.15},{"x":-877,"y":67,"v":0.3},{"x":-830,"y":67,"v":1.2},{"x":-783,"y":67,"v":4},{"x":-736,"y":67,"v":7},{"x":-689,"y":67,"v":22},{"x":-642,"y":67,"v":4},{"x":-454,"y":67,"v":150},{"x":-407,"y":67,"v":500},{"x":-360,"y":67,"v":70},{"x":-313,"y":67,"v":270},{"x":-266,"y":67,"v":3000},{"x":-219,"y":67,"v":6000},{"x":-172,"y":67,"v":20000},{"x":-125,"y":67,"v":40000},{"x":-78,"y":67,"v":70000},{"x":-31,"y":67,"v":130000},{"x":16,"y":67,"v":70000},{"x":63,"y":67,"v":20000},{"x":110,"y":67,"v":10000},{"x":157,"y":67,"v":3000},{"x":204,"y":67,"v":800},{"x":627,"y":67,"v":150},{"x":674,"y":67,"v":150},{"x":721,"y":67,"v":40},{"x":768,"y":67,"v":13},{"x":815,"y":67,"v":13},{"x":862,"y":67,"v":4},{"x":909,"y":67,"v":1.2},{"x":956,"y":67,"v":0.15},
{"x":-971,"y":39,"v":0.15},{"x":-924,"y":39,"v":0.15},{"x":-877,"y":39,"v":0.3},{"x":-830,"y":39,"v":1.2},{"x":-783,"y":39,"v":2},{"x":-736,"y":39,"v":7},{"x":-689,"y":39,"v":13},{"x":-642,"y":39,"v":13},{"x":-595,"y":39,"v":13},{"x":-548,"y":39,"v":13},{"x":-501,"y":39,"v":22},{"x":-454,"y":39,"v":150},{"x":-407,"y":39,"v":500},{"x":-360,"y":39,"v":150},{"x":-313,"y":39,"v":270},{"x":-266,"y":39,"v":3000},{"x":-219,"y":39,"v":10000},{"x":-172,"y":39,"v":40000},{"x":-125,"y":39,"v":70000},{"x":-78,"y":39,"v":400000},{"x":-31,"y":39,"v":800000},{"x":16,"y":39,"v":240000},{"x":63,"y":39,"v":70000},{"x":110,"y":39,"v":10000},{"x":157,"y":39,"v":6000},{"x":204,"y":39,"v":800},{"x":627,"y":39,"v":150},{"x":674,"y":39,"v":270},{"x":721,"y":39,"v":40},{"x":768,"y":39,"v":22},{"x":815,"y":39,"v":7},{"x":862,"y":39,"v":4},{"x":909,"y":39,"v":2},{"x":956,"y":39,"v":2},{"x":1003,"y":39,"v":2},{"x":1144,"y":39,"v":0.3},
{"x":-971,"y":11,"v":0.08},{"x":-924,"y":11,"v":2},{"x":-877,"y":11,"v":0.025},{"x":-830,"y":11,"v":1.2},{"x":-783,"y":11,"v":0.3},{"x":-736,"y":11,"v":0.3},{"x":-689,"y":11,"v":0.3},{"x":-642,"y":11,"v":0.8},{"x":-595,"y":11,"v":0.3},{"x":-548,"y":11,"v":7},{"x":-501,"y":11,"v":22},{"x":-454,"y":11,"v":70},{"x":-407,"y":11,"v":500},{"x":-360,"y":11,"v":70},{"x":-313,"y":11,"v":500},{"x":-266,"y":11,"v":3000},{"x":-219,"y":11,"v":10000},{"x":-172,"y":11,"v":40000},{"x":-125,"y":11,"v":130000},{"x":-78,"y":11,"v":800000},{"x":-31,"y":11,"v":800000},{"x":16,"y":11,"v":400000},{"x":63,"y":11,"v":70000},{"x":110,"y":11,"v":10000},{"x":157,"y":11,"v":6000},{"x":204,"y":11,"v":800},{"x":627,"y":11,"v":150},{"x":674,"y":11,"v":270},{"x":721,"y":11,"v":40},{"x":768,"y":11,"v":22},{"x":815,"y":11,"v":7},{"x":862,"y":11,"v":4},{"x":909,"y":11,"v":1.2},{"x":956,"y":11,"v":4},{"x":1003,"y":11,"v":0.3},{"x":1144,"y":11,"v":0.3},
{"x":-1065,"y":-17,"v":0.05},{"x":-924,"y":-17,"v":0.3},{"x":-783,"y":-17,"v":2},{"x":-642,"y":-17,"v":0.3},{"x":-548,"y":-17,"v":7},{"x":-501,"y":-17,"v":22},{"x":-454,"y":-17,"v":70},{"x":-407,"y":-17,"v":500},{"x":-360,"y":-17,"v":150},{"x":-313,"y":-17,"v":270},{"x":-266,"y":-17,"v":6000},{"x":-219,"y":-17,"v":10000},{"x":-172,"y":-17,"v":40000},{"x":-125,"y":-17,"v":130000},{"x":-78,"y":-17,"v":800000},{"x":-31,"y":-17,"v":800000},{"x":16,"y":-17,"v":400000},{"x":63,"y":-17,"v":70000},{"x":110,"y":-17,"v":10000},{"x":157,"y":-17,"v":6000},{"x":204,"y":-17,"v":800},{"x":627,"y":-17,"v":150},{"x":674,"y":-17,"v":270},{"x":721,"y":-17,"v":70},{"x":768,"y":-17,"v":22},{"x":815,"y":-17,"v":7},{"x":862,"y":-17,"v":4},{"x":909,"y":-17,"v":1.2},{"x":956,"y":-17,"v":0.3},{"x":1050,"y":-17,"v":0.15},
{"x":-971,"y":-44,"v":0.15},{"x":-924,"y":-44,"v":0.08},{"x":-783,"y":-44,"v":0.8},{"x":-736,"y":-44,"v":2},{"x":-689,"y":-44,"v":0.8},{"x":-642,"y":-44,"v":0.8},{"x":-595,"y":-44,"v":4},{"x":-548,"y":-44,"v":7},{"x":-501,"y":-44,"v":40},{"x":-454,"y":-44,"v":70},{"x":-407,"y":-44,"v":500},{"x":-360,"y":-44,"v":70},{"x":-313,"y":-44,"v":500},{"x":-266,"y":-44,"v":3000},{"x":-219,"y":-44,"v":10000},{"x":-172,"y":-44,"v":40000},{"x":-125,"y":-44,"v":130000},{"x":-78,"y":-44,"v":800000},{"x":-31,"y":-44,"v":800000},{"x":16,"y":-44,"v":240000},{"x":63,"y":-44,"v":70000},{"x":110,"y":-44,"v":10000},{"x":157,"y":-44,"v":6000},{"x":204,"y":-44,"v":800},{"x":627,"y":-44,"v":150},{"x":674,"y":-44,"v":270},{"x":721,"y":-44,"v":40},{"x":768,"y":-44,"v":22},{"x":815,"y":-44,"v":7},{"x":862,"y":-44,"v":7},{"x":909,"y":-44,"v":2},{"x":1050,"y":-44,"v":0.8},
{"x":-736,"y":-72,"v":4},{"x":-548,"y":-72,"v":7},{"x":-501,"y":-72,"v":40},{"x":-454,"y":-72,"v":150},{"x":-407,"y":-72,"v":500},{"x":-360,"y":-72,"v":40},{"x":-313,"y":-72,"v":500},{"x":-266,"y":-72,"v":3000},{"x":-219,"y":-72,"v":6000},{"x":-172,"y":-72,"v":20000},{"x":-125,"y":-72,"v":70000},{"x":-78,"y":-72,"v":240000},{"x":-31,"y":-72,"v":240000},{"x":16,"y":-72,"v":130000},{"x":63,"y":-72,"v":40000},{"x":110,"y":-72,"v":10000},{"x":157,"y":-72,"v":3000},{"x":204,"y":-72,"v":800},{"x":627,"y":-72,"v":150},{"x":674,"y":-72,"v":150},{"x":721,"y":-72,"v":40},{"x":768,"y":-72,"v":7},{"x":815,"y":-72,"v":7},{"x":862,"y":-72,"v":2},{"x":909,"y":-72,"v":4},{"x":956,"y":-72,"v":2},{"x":1003,"y":-72,"v":2},{"x":1191,"y":-72,"v":0.8},
{"x":-971,"y":-100,"v":0.15},{"x":-783,"y":-100,"v":0.8},{"x":-689,"y":-100,"v":7},{"x":-642,"y":-100,"v":7},{"x":-595,"y":-100,"v":13},{"x":-548,"y":-100,"v":22},{"x":-501,"y":-100,"v":13},{"x":-454,"y":-100,"v":40},{"x":-407,"y":-100,"v":500},{"x":-360,"y":-100,"v":270},{"x":-313,"y":-100,"v":500},{"x":-266,"y":-100,"v":1600},{"x":-219,"y":-100,"v":6000},{"x":-172,"y":-100,"v":20000},{"x":-125,"y":-100,"v":40000},{"x":-78,"y":-100,"v":70000},{"x":-31,"y":-100,"v":70000},{"x":16,"y":-100,"v":40000},{"x":63,"y":-100,"v":20000},{"x":110,"y":-100,"v":10000},{"x":157,"y":-100,"v":3000},{"x":204,"y":-100,"v":500},{"x":627,"y":-100,"v":150},{"x":674,"y":-100,"v":150},{"x":721,"y":-100,"v":22},{"x":768,"y":-100,"v":4},{"x":815,"y":-100,"v":7},{"x":862,"y":-100,"v":7},{"x":909,"y":-100,"v":1.2},{"x":956,"y":-100,"v":2},
{"x":-971,"y":-127,"v":0.15},{"x":-783,"y":-127,"v":0.8},{"x":-689,"y":-127,"v":7},{"x":-642,"y":-127,"v":7},{"x":-595,"y":-127,"v":13},{"x":-548,"y":-127,"v":22},{"x":-501,"y":-127,"v":13},{"x":-454,"y":-127,"v":70},{"x":-407,"y":-127,"v":500},{"x":-360,"y":-127,"v":150},{"x":-313,"y":-127,"v":500},{"x":-266,"y":-127,"v":800},{"x":-219,"y":-127,"v":3000},{"x":-172,"y":-127,"v":6000},{"x":-125,"y":-127,"v":10000},{"x":-78,"y":-127,"v":10000},{"x":-31,"y":-127,"v":20000},{"x":16,"y":-127,"v":10000},{"x":63,"y":-127,"v":6000},{"x":110,"y":-127,"v":3000},{"x":157,"y":-127,"v":1600},{"x":204,"y":-127,"v":500},{"x":627,"y":-127,"v":40},{"x":674,"y":-127,"v":150},{"x":721,"y":-127,"v":13},{"x":768,"y":-127,"v":22},{"x":815,"y":-127,"v":7},{"x":862,"y":-127,"v":7},{"x":909,"y":-127,"v":0.3},{"x":956,"y":-127,"v":0.8},{"x":1050,"y":-127,"v":0.8},
{"x":-548,"y":-155,"v":7},{"x":-501,"y":-155,"v":40},{"x":-454,"y":-155,"v":40},{"x":-407,"y":-155,"v":270},{"x":-360,"y":-155,"v":500},{"x":-313,"y":-155,"v":500},{"x":-266,"y":-155,"v":500},{"x":-219,"y":-155,"v":800},{"x":-172,"y":-155,"v":800},{"x":-125,"y":-155,"v":800},{"x":-78,"y":-155,"v":800},{"x":-31,"y":-155,"v":800},{"x":16,"y":-155,"v":800},{"x":63,"y":-155,"v":500},{"x":110,"y":-155,"v":500},{"x":157,"y":-155,"v":150},{"x":204,"y":-155,"v":270},{"x":251,"y":-155,"v":270},{"x":298,"y":-155,"v":270},{"x":345,"y":-155,"v":270},{"x":392,"y":-155,"v":150},{"x":439,"y":-155,"v":150},{"x":486,"y":-155,"v":150},{"x":533,"y":-155,"v":150},{"x":580,"y":-155,"v":150},{"x":627,"y":-155,"v":150},{"x":674,"y":-155,"v":150},{"x":721,"y":-155,"v":40},{"x":768,"y":-155,"v":7},{"x":815,"y":-155,"v":7},{"x":862,"y":-155,"v":7},{"x":909,"y":-155,"v":0.3},{"x":956,"y":-155,"v":0.8},{"x":1050,"y":-155,"v":0.8},
{"x":-783,"y":-183,"v":2},{"x":-642,"y":-183,"v":2},{"x":-595,"y":-183,"v":4},{"x":-548,"y":-183,"v":7},{"x":-501,"y":-183,"v":22},{"x":-454,"y":-183,"v":40},{"x":-407,"y":-183,"v":270},{"x":-360,"y":-183,"v":270},{"x":-313,"y":-183,"v":800},{"x":-266,"y":-183,"v":800},{"x":-219,"y":-183,"v":800},{"x":-172,"y":-183,"v":1600},{"x":-125,"y":-183,"v":1600},{"x":-78,"y":-183,"v":1600},{"x":-31,"y":-183,"v":1600},{"x":16,"y":-183,"v":1600},{"x":63,"y":-183,"v":800},{"x":110,"y":-183,"v":500},{"x":157,"y":-183,"v":500},{"x":204,"y":-183,"v":270},{"x":251,"y":-183,"v":270},{"x":298,"y":-183,"v":150},{"x":345,"y":-183,"v":150},{"x":392,"y":-183,"v":150},{"x":439,"y":-183,"v":150},{"x":486,"y":-183,"v":150},{"x":533,"y":-183,"v":70},{"x":580,"y":-183,"v":70},{"x":627,"y":-183,"v":40},{"x":674,"y":-183,"v":40},{"x":721,"y":-183,"v":22},{"x":768,"y":-183,"v":7},{"x":815,"y":-183,"v":4},{"x":862,"y":-183,"v":0.5},{"x":909,"y":-183,"v":1.2},{"x":1003,"y":-183,"v":0.15},{"x":1097,"y":-183,"v":0.3},
{"x":-595,"y":-210,"v":7},{"x":-548,"y":-210,"v":4},{"x":-501,"y":-210,"v":4},{"x":-454,"y":-210,"v":22},{"x":-407,"y":-210,"v":270},{"x":-360,"y":-210,"v":150},{"x":-313,"y":-210,"v":270},{"x":-266,"y":-210,"v":500},{"x":-219,"y":-210,"v":150},{"x":-172,"y":-210,"v":70},{"x":-125,"y":-210,"v":150},{"x":-78,"y":-210,"v":150},{"x":-31,"y":-210,"v":150},{"x":16,"y":-210,"v":150},{"x":63,"y":-210,"v":150},{"x":110,"y":-210,"v":270},{"x":157,"y":-210,"v":150},{"x":204,"y":-210,"v":150},{"x":251,"y":-210,"v":150},{"x":298,"y":-210,"v":150},{"x":345,"y":-210,"v":150},{"x":392,"y":-210,"v":40},{"x":439,"y":-210,"v":13},{"x":486,"y":-210,"v":40},{"x":533,"y":-210,"v":13},{"x":580,"y":-210,"v":13},{"x":627,"y":-210,"v":13},{"x":674,"y":-210,"v":4},{"x":721,"y":-210,"v":22},{"x":768,"y":-210,"v":7},{"x":815,"y":-210,"v":2},{"x":862,"y":-210,"v":0.3},{"x":909,"y":-210,"v":0.08},{"x":956,"y":-210,"v":0.08},{"x":1003,"y":-210,"v":2},{"x":1050,"y":-210,"v":0.08},
{"x":-501,"y":-238,"v":4},{"x":-454,"y":-238,"v":22},{"x":-407,"y":-238,"v":4},{"x":-313,"y":-238,"v":150},{"x":-266,"y":-238,"v":270},{"x":-219,"y":-238,"v":270},{"x":-172,"y":-238,"v":800},{"x":-125,"y":-238,"v":800},{"x":-78,"y":-238,"v":800},{"x":-31,"y":-238,"v":800},{"x":16,"y":-238,"v":800},{"x":63,"y":-238,"v":500},{"x":110,"y":-238,"v":500},{"x":157,"y":-238,"v":270},{"x":204,"y":-238,"v":270},{"x":251,"y":-238,"v":150},{"x":298,"y":-238,"v":22},{"x":345,"y":-238,"v":4},{"x":392,"y":-238,"v":13},{"x":439,"y":-238,"v":40},{"x":486,"y":-238,"v":22},{"x":533,"y":-238,"v":4},{"x":580,"y":-238,"v":4},{"x":627,"y":-238,"v":4},{"x":721,"y":-238,"v":4},{"x":768,"y":-238,"v":1.2},{"x":815,"y":-238,"v":0.8},{"x":862,"y":-238,"v":0.3},{"x":956,"y":-238,"v":0.15},{"x":1003,"y":-238,"v":0.15},{"x":1191,"y":-238,"v":0.08},
{"x":-783,"y":-266,"v":2},{"x":-595,"y":-266,"v":1.2},{"x":-548,"y":-266,"v":4},{"x":-501,"y":-266,"v":13},{"x":-454,"y":-266,"v":4},{"x":-407,"y":-266,"v":22},{"x":-313,"y":-266,"v":7},{"x":-266,"y":-266,"v":150},{"x":-219,"y":-266,"v":150},{"x":-172,"y":-266,"v":500},{"x":-125,"y":-266,"v":800},{"x":-78,"y":-266,"v":800},{"x":-31,"y":-266,"v":800},{"x":16,"y":-266,"v":500},{"x":63,"y":-266,"v":500},{"x":110,"y":-266,"v":270},{"x":157,"y":-266,"v":150},{"x":204,"y":-266,"v":150},{"x":251,"y":-266,"v":22},{"x":298,"y":-266,"v":40},{"x":392,"y":-266,"v":7},{"x":439,"y":-266,"v":7},{"x":533,"y":-266,"v":4},{"x":580,"y":-266,"v":4},{"x":627,"y":-266,"v":4},{"x":768,"y":-266,"v":0.05},{"x":815,"y":-266,"v":0.3},{"x":909,"y":-266,"v":0.15},{"x":956,"y":-266,"v":0.08},
{"x":-642,"y":-294,"v":2},{"x":-548,"y":-294,"v":7},{"x":-360,"y":-294,"v":7},{"x":-219,"y":-294,"v":150},{"x":-172,"y":-294,"v":150},{"x":-125,"y":-294,"v":270},{"x":-78,"y":-294,"v":500},{"x":-31,"y":-294,"v":500},{"x":16,"y":-294,"v":270},{"x":63,"y":-294,"v":150},{"x":110,"y":-294,"v":150},{"x":157,"y":-294,"v":70},{"x":251,"y":-294,"v":22},{"x":298,"y":-294,"v":13},{"x":345,"y":-294,"v":7},{"x":439,"y":-294,"v":4},{"x":674,"y":-294,"v":1.2},{"x":721,"y":-294,"v":2},{"x":815,"y":-294,"v":0.8},
{"x":-548,"y":-321,"v":4},{"x":-501,"y":-321,"v":4},{"x":-360,"y":-321,"v":7},{"x":-266,"y":-321,"v":22},{"x":-219,"y":-321,"v":40},{"x":-172,"y":-321,"v":40},{"x":-125,"y":-321,"v":70},{"x":-78,"y":-321,"v":150},{"x":-31,"y":-321,"v":150},{"x":16,"y":-321,"v":150},{"x":63,"y":-321,"v":70},{"x":110,"y":-321,"v":40},{"x":157,"y":-321,"v":22},{"x":204,"y":-321,"v":40},{"x":251,"y":-321,"v":7},{"x":298,"y":-321,"v":7},{"x":345,"y":-321,"v":7},{"x":439,"y":-321,"v":4},{"x":533,"y":-321,"v":2},{"x":768,"y":-321,"v":0.5},{"x":956,"y":-321,"v":0.3},
{"x":-736,"y":-349,"v":0.3},{"x":-407,"y":-349,"v":2},{"x":-360,"y":-349,"v":7},{"x":-219,"y":-349,"v":40},{"x":-172,"y":-349,"v":40},{"x":-125,"y":-349,"v":40},{"x":-78,"y":-349,"v":70},{"x":-31,"y":-349,"v":70},{"x":16,"y":-349,"v":70},{"x":63,"y":-349,"v":22},{"x":110,"y":-349,"v":7},{"x":157,"y":-349,"v":40},{"x":251,"y":-349,"v":7},{"x":298,"y":-349,"v":7},{"x":345,"y":-349,"v":7},{"x":392,"y":-349,"v":4},{"x":439,"y":-349,"v":4},{"x":486,"y":-349,"v":2},{"x":533,"y":-349,"v":2},{"x":627,"y":-349,"v":2},
{"x":-313,"y":-377,"v":7},{"x":-125,"y":-377,"v":7},{"x":-78,"y":-377,"v":40},{"x":-31,"y":-377,"v":40},{"x":16,"y":-377,"v":40},{"x":63,"y":-377,"v":13},{"x":110,"y":-377,"v":13},{"x":157,"y":-377,"v":22},{"x":298,"y":-377,"v":13},
{"x":-548,"y":-404,"v":2},{"x":-454,"y":-404,"v":4},{"x":-407,"y":-404,"v":4},{"x":-313,"y":-404,"v":7},{"x":-266,"y":-404,"v":4},{"x":-172,"y":-404,"v":22},{"x":-125,"y":-404,"v":22},{"x":-78,"y":-404,"v":7},{"x":-31,"y":-404,"v":40},{"x":16,"y":-404,"v":40},{"x":63,"y":-404,"v":13},{"x":110,"y":-404,"v":22},{"x":204,"y":-404,"v":7},{"x":251,"y":-404,"v":7},
{"x":-360,"y":-432,"v":2},{"x":-266,"y":-432,"v":4},{"x":-31,"y":-432,"v":40},{"x":63,"y":-432,"v":13},{"x":110,"y":-432,"v":13},{"x":204,"y":-432,"v":7},{"x":439,"y":-432,"v":4},{"x":815,"y":-432,"v":0.08},
{"x":-172,"y":-460,"v":7},{"x":-125,"y":-460,"v":22},{"x":-78,"y":-460,"v":4},{"x":-31,"y":-460,"v":40},{"x":16,"y":-460,"v":13},{"x":63,"y":-460,"v":40},{"x":204,"y":-460,"v":7},{"x":251,"y":-460,"v":7},
{"x":110,"y":-487,"v":4},
{"x":-78,"y":-543,"v":2},{"x":345,"y":-543,"v":2},
{"x":-172,"y":-571,"v":7},{"x":-78,"y":-571,"v":13},{"x":-31,"y":-571,"v":7},{"x":16,"y":-571,"v":13},{"x":204,"y":-571,"v":4},
{"x":110,"y":-598,"v":4}
]},"mark":{"type":"rect","strokeWidth":0.4},"encoding":{"x":{"field":"x","type":"quantitative","bin":{"binned":true,"step":47},"scale":{"domain":[-1300,1292],"range":[185,815],"nice":false,"zero":false},"axis":{"values":[-1000,-500,0,500,1000],"domain":false,"ticks":false,"offset":-80,"labelFontSize":22,"labelPadding":17,"labelColor":"#333","title":"x (cm)","titleFontSize":22,"titleFontWeight":"normal","titleColor":"#333","titlePadding":17,"labelExpr":"''+datum.value"}},"y":{"field":"y","type":"quantitative","bin":{"binned":true,"step":27.7},"scale":{"domain":[-691,1506],"range":[589,20],"nice":false,"zero":false},"axis":{"values":[-500,0,500,1000,1500],"domain":false,"ticks":false,"offset":-185,"labelFontSize":22,"labelPadding":15,"labelColor":"#333","title":"y (cm)","titleFontSize":21,"titleFontWeight":"normal","titleColor":"#333","titlePadding":11,"labelExpr":"''+datum.value"}},"color":{"field":"v","type":"quantitative","legend":null,"scale":{"type":"threshold","domain":[0.02,0.035,0.063,0.098,0.178,0.4,0.71,1.02,1.48,2.75,5.1,8.9,17.8,30.9,53.7,100,204,372,646,1202,2239,4169,7762,15136,26915,50119,97724,169824,301995,562341],"range":["#ffffff","#d9d9d9","#d4b4d4","#e49ce4","#ff66ff","#ee11ee","#c000e8","#a000e0","#9000e0","#7000c0","#1000c0","#0000e0","#0040ff","#00a0ff","#00c8ff","#00aaaa","#00c060","#10e030","#70f000","#b0f000","#e0f000","#ffff00","#ffc800","#ff9000","#ff5000","#ff0000","#d00000","#b00000","#800000","#500000","#000000"]}},"stroke":{"field":"v","type":"quantitative","legend":null,"scale":{"type":"threshold","domain":[0.02,0.035,0.063,0.098,0.178,0.4,0.71,1.02,1.48,2.75,5.1,8.9,17.8,30.9,53.7,100,204,372,646,1202,2239,4169,7762,15136,26915,50119,97724,169824,301995,562341],"range":["#ffffff","#d9d9d9","#d4b4d4","#e49ce4","#ff66ff","#ee11ee","#c000e8","#a000e0","#9000e0","#7000c0","#1000c0","#0000e0","#0040ff","#00a0ff","#00c8ff","#00aaaa","#00c060","#10e030","#70f000","#b0f000","#e0f000","#ffff00","#ffc800","#ff9000","#ff5000","#ff0000","#d00000","#b00000","#800000","#500000","#000000"]}}}},
{"data":{"values":[{"x":-1300,"x2":1292,"y":-691,"y2":1506}]},"mark":{"type":"rect","fill":null,"stroke":"#666","strokeWidth":2},"encoding":{"x":{"field":"x","type":"quantitative"},"x2":{"field":"x2"},"y":{"field":"y","type":"quantitative"},"y2":{"field":"y2"}}},
{"data":{"values":[{"s":"top","o":0,"x":-1123,"y":1255},{"s":"top","o":1,"x":1292,"y":1255},{"s":"diag","o":0,"x":-1300,"y":1174},{"s":"diag","o":1,"x":-1058,"y":1293},
{"s":"out","o":0,"x":-412,"y":-309},{"s":"out","o":1,"x":-412,"y":664},{"s":"out","o":2,"x":-263,"y":764},{"s":"out","o":3,"x":-140,"y":822},{"s":"out","o":4,"x":37,"y":876},{"s":"out","o":5,"x":160,"y":884},{"s":"out","o":6,"x":296,"y":876},{"s":"out","o":7,"x":436,"y":849},{"s":"out","o":8,"x":572,"y":784},{"s":"out","o":9,"x":683,"y":707},{"s":"out","o":10,"x":749,"y":649},{"s":"out","o":11,"x":737,"y":600},{"s":"out","o":12,"x":737,"y":-135},{"s":"out","o":13,"x":749,"y":-135},{"s":"out","o":14,"x":749,"y":-309},{"s":"out","o":15,"x":-412,"y":-309},
{"s":"inn","o":0,"x":-329,"y":637},{"s":"inn","o":1,"x":-263,"y":722},{"s":"inn","o":2,"x":-156,"y":772},{"s":"inn","o":3,"x":-45,"y":811},{"s":"inn","o":4,"x":91,"y":834},{"s":"inn","o":5,"x":230,"y":830},{"s":"inn","o":6,"x":366,"y":811},{"s":"inn","o":7,"x":502,"y":772},{"s":"inn","o":8,"x":584,"y":707},{"s":"inn","o":9,"x":667,"y":625},{"s":"inn","o":10,"x":667,"y":-135},{"s":"inn","o":11,"x":-329,"y":-135},{"s":"inn","o":12,"x":-329,"y":637},
{"s":"seg","o":0,"x":667,"y":-135},{"s":"seg","o":1,"x":749,"y":-135},
{"s":"lo","o":0,"x":-716,"y":467},{"s":"lo","o":1,"x":-412,"y":467},{"s":"lo2","o":0,"x":-412,"y":-4},{"s":"lo2","o":1,"x":-716,"y":-4},{"s":"lo2","o":2,"x":-716,"y":467},
{"s":"li","o":0,"x":-412,"y":405},{"s":"li","o":1,"x":-650,"y":405},{"s":"li","o":2,"x":-650,"y":54},{"s":"li","o":3,"x":-412,"y":54},
{"s":"b1","o":0,"x":-214,"y":162},{"s":"b1","o":1,"x":-214,"y":324},{"s":"b1","o":2,"x":210,"y":324},{"s":"b1","o":3,"x":210,"y":162},{"s":"b1","o":4,"x":-214,"y":162},
{"s":"b2","o":0,"x":-255,"y":-135},{"s":"b2","o":1,"x":-255,"y":124},{"s":"b2","o":2,"x":243,"y":124},{"s":"b2","o":3,"x":243,"y":-135},
{"s":"v1","o":0,"x":-173,"y":124},{"s":"v1","o":1,"x":-173,"y":-135},{"s":"v2","o":0,"x":-91,"y":124},{"s":"v2","o":1,"x":-91,"y":-135},{"s":"v3","o":0,"x":-49,"y":124},{"s":"v3","o":1,"x":-49,"y":-127},{"s":"v3","o":2,"x":41,"y":-127},{"s":"v3","o":3,"x":41,"y":124},{"s":"v4","o":0,"x":82,"y":124},{"s":"v4","o":1,"x":82,"y":-135},{"s":"v5","o":0,"x":165,"y":124},{"s":"v5","o":1,"x":165,"y":-135},
{"s":"b3","o":0,"x":-148,"y":-135},{"s":"b3","o":1,"x":-148,"y":-185},{"s":"b3","o":2,"x":152,"y":-185},{"s":"b3","o":3,"x":152,"y":-135}]},"mark":{"type":"line","color":"#1c1c1c","strokeWidth":1.6,"clip":false},"encoding":{"x":{"field":"x","type":"quantitative"},"y":{"field":"y","type":"quantitative"},"detail":{"field":"s"},"order":{"field":"o","type":"ordinal"}}},
{"data":{"values":[{"s":"m","o":0,"x":-383,"y":382},{"s":"m","o":1,"x":-424,"y":297},{"s":"m","o":2,"x":-444,"y":205},{"s":"m","o":3,"x":-457,"y":127},{"s":"m","o":4,"x":-457,"y":77},{"s":"m","o":5,"x":-465,"y":46},{"s":"m","o":6,"x":-498,"y":0},{"s":"m","o":7,"x":-477,"y":-27},{"s":"m","o":8,"x":-510,"y":-58},{"s":"m","o":9,"x":-498,"y":-89},{"s":"m","o":10,"x":-465,"y":-154},{"s":"m","o":11,"x":-444,"y":-205},{"s":"m","o":12,"x":-374,"y":-205},{"s":"m","o":13,"x":-342,"y":-185},{"s":"m","o":14,"x":-325,"y":-220},{"s":"m","o":15,"x":-263,"y":-270},{"s":"m","o":16,"x":-280,"y":-301},{"s":"m","o":17,"x":-202,"y":-282},{"s":"m","o":18,"x":-140,"y":-317},{"s":"m","o":19,"x":-128,"y":-347},{"s":"m","o":20,"x":-58,"y":-347},{"s":"m","o":21,"x":-12,"y":-367},{"s":"m","o":22,"x":37,"y":-336},{"s":"m","o":23,"x":107,"y":-297},{"s":"m","o":24,"x":181,"y":-270},{"s":"m","o":25,"x":230,"y":-297},{"s":"m","o":26,"x":263,"y":-243},{"s":"m","o":27,"x":366,"y":-205},{"s":"m","o":28,"x":531,"y":-181},{"s":"m","o":29,"x":683,"y":-166},{"s":"m","o":30,"x":728,"y":-135},{"s":"m","o":31,"x":749,"y":-50},{"s":"m","o":32,"x":749,"y":143},{"s":"m","o":33,"x":737,"y":259},{"s":"m","o":34,"x":704,"y":297},{"s":"m","o":35,"x":716,"y":328},{"s":"m","o":36,"x":675,"y":347},{"s":"m","o":37,"x":716,"y":398},{"s":"m","o":38,"x":704,"y":452},{"s":"m","o":39,"x":667,"y":490},{"s":"m","o":40,"x":642,"y":463},{"s":"m","o":41,"x":667,"y":432},{"s":"m","o":42,"x":634,"y":405},{"s":"m","o":43,"x":663,"y":367},{"s":"m","o":44,"x":625,"y":336},{"s":"m","o":45,"x":625,"y":127},{"s":"m","o":46,"x":613,"y":-135},{"s":"m","o":47,"x":272,"y":-135},{"s":"m","o":48,"x":272,"y":89},{"s":"m","o":49,"x":251,"y":135},{"s":"m","o":50,"x":214,"y":162},{"s":"m","o":51,"x":210,"y":270},{"s":"m","o":52,"x":210,"y":309},{"s":"m","o":53,"x":148,"y":340},{"s":"m","o":54,"x":25,"y":340},{"s":"m","o":55,"x":-45,"y":336},{"s":"m","o":56,"x":-86,"y":336},{"s":"m","o":57,"x":-128,"y":340},{"s":"m","o":58,"x":-210,"y":320},{"s":"m","o":59,"x":-272,"y":270},{"s":"m","o":60,"x":-243,"y":239},{"s":"m","o":61,"x":-272,"y":185},{"s":"m","o":62,"x":-292,"y":143},{"s":"m","o":63,"x":-333,"y":193},{"s":"m","o":64,"x":-354,"y":270},{"s":"m","o":65,"x":-362,"y":320},{"s":"m","o":66,"x":-383,"y":382},
{"s":"a","o":0,"x":-362,"y":656},{"s":"a","o":1,"x":-366,"y":703},{"s":"a","o":2,"x":-263,"y":772},{"s":"a","o":3,"x":-156,"y":838},{"s":"a","o":4,"x":-115,"y":830},{"s":"a","o":5,"x":-33,"y":861},{"s":"a","o":6,"x":37,"y":876},{"s":"a","o":7,"x":91,"y":888},{"s":"a","o":8,"x":230,"y":869},{"s":"a","o":9,"x":317,"y":842},{"s":"a","o":10,"x":284,"y":811},{"s":"a","o":11,"x":189,"y":822},{"s":"a","o":12,"x":91,"y":822},{"s":"a","o":13,"x":8,"y":799},{"s":"a","o":14,"x":-45,"y":772},{"s":"a","o":15,"x":-156,"y":745},{"s":"a","o":16,"x":-239,"y":707},{"s":"a","o":17,"x":-333,"y":629},{"s":"a","o":18,"x":-362,"y":656},
{"s":"t1","o":0,"x":498,"y":726},{"s":"t1","o":1,"x":510,"y":761},{"s":"t1","o":2,"x":531,"y":726},{"s":"t1","o":3,"x":498,"y":726},
{"s":"t2","o":0,"x":584,"y":668},{"s":"t2","o":1,"x":601,"y":687},{"s":"t2","o":2,"x":621,"y":676},{"s":"t2","o":3,"x":584,"y":668}]},"mark":{"type":"line","color":"#d9202a","strokeWidth":3.4,"strokeJoin":"round","clip":false},"encoding":{"x":{"field":"x","type":"quantitative"},"y":{"field":"y","type":"quantitative"},"detail":{"field":"s"},"order":{"field":"o","type":"ordinal"}}},
{"data":{"values":[{"x":550,"x2":1292,"y":1220,"y2":1498}]},"mark":{"type":"rect","fill":"#003399"},"encoding":{"x":{"field":"x","type":"quantitative"},"x2":{"field":"x2"},"y":{"field":"y","type":"quantitative"},"y2":{"field":"y2"}}},
{"data":{"values":[{"x":922,"y":1350,"t":"Na-22"}]},"mark":{"type":"text","font":"Liberation Sans","fontSize":47,"color":"white","align":"center","baseline":"middle"},"encoding":{"x":{"field":"x","type":"quantitative"},"y":{"field":"y","type":"quantitative"},"text":{"field":"t"}}},
{"data":{"values":[{"x":-1959,"y":-135},{"x":-420,"y":150}]},"mark":{"type":"line","color":"#003399","strokeWidth":4,"clip":false},"encoding":{"x":{"field":"x","type":"quantitative"},"y":{"field":"y","type":"quantitative"}}},
{"data":{"values":[{"x":-424,"y":151}]},"mark":{"type":"point","shape":"triangle-right","filled":true,"color":"#003399","size":330,"angle":-11.5,"opacity":1},"encoding":{"x":{"field":"x","type":"quantitative"},"y":{"field":"y","type":"quantitative"}}},
{"data":{"values":[{"x":432,"y":-602,"t":"50 Bq/kg"}]},"mark":{"type":"text","fontSize":22,"color":"#333","align":"left","baseline":"middle"},"encoding":{"x":{"field":"x","type":"quantitative"},"y":{"field":"y","type":"quantitative"},"text":{"field":"t"}}},
{"data":{"values":[{"x":909,"y":-598},{"x":1177,"y":-598}]},"mark":{"type":"line","color":"#e01b1b","strokeWidth":2.6},"encoding":{"x":{"field":"x","type":"quantitative"},"y":{"field":"y","type":"quantitative"}}},
{"data":{"values":[{"x":-2099,"y":1579,"t":"to predict these limits more precisely."}]},"mark":{"type":"text","font":"Liberation Sans","fontSize":53,"color":"#111","align":"left","baseline":"alphabetic"},"encoding":{"x":{"field":"x","type":"quantitative"},"y":{"field":"y","type":"quantitative"},"text":{"field":"t"}}},
{"data":{"values":[{"x":-2049,"y":-1062,"t":"z)"}]},"mark":{"type":"text","font":"Liberation Sans","fontSize":44,"color":"#0b3fa8","align":"left","baseline":"alphabetic"},"encoding":{"x":{"field":"x","type":"quantitative"},"y":{"field":"y","type":"quantitative"},"text":{"field":"t"}}}
]},
{"layer":[
{"data":{"values":[{"a":0.01,"b":0.02,"v":0.01},{"a":0.02,"b":0.035,"v":0.025},{"a":0.035,"b":0.063,"v":0.05},{"a":0.063,"b":0.098,"v":0.08},{"a":0.098,"b":0.178,"v":0.15},{"a":0.178,"b":0.4,"v":0.3},{"a":0.4,"b":0.71,"v":0.5},{"a":0.71,"b":1.02,"v":0.8},{"a":1.02,"b":1.48,"v":1.2},{"a":1.48,"b":2.75,"v":2},{"a":2.75,"b":5.1,"v":4},{"a":5.1,"b":8.9,"v":7},{"a":8.9,"b":17.8,"v":13},{"a":17.8,"b":30.9,"v":22},{"a":30.9,"b":53.7,"v":40},{"a":53.7,"b":100,"v":70},{"a":100,"b":204,"v":150},{"a":204,"b":372,"v":270},{"a":372,"b":646,"v":500},{"a":646,"b":1202,"v":800},{"a":1202,"b":2239,"v":1600},{"a":2239,"b":4169,"v":3000},{"a":4169,"b":7762,"v":6000},{"a":7762,"b":15136,"v":10000},{"a":15136,"b":26915,"v":20000},{"a":26915,"b":50119,"v":40000},{"a":50119,"b":97724,"v":70000},{"a":97724,"b":169824,"v":130000},{"a":169824,"b":301995,"v":240000},{"a":301995,"b":562341,"v":400000},{"a":562341,"b":1000000,"v":800000}]},"mark":{"type":"rect"},"encoding":{"x":{"datum":0,"type":"quantitative","scale":{"domain":[0,1],"range":[832,866]},"axis":null},"x2":{"datum":1},"y":{"field":"a","type":"quantitative","scale":{"type":"log","domain":[0.01,1000000],"range":[590,20],"nice":false},"axis":{"orient":"right","values":[0.01,0.1,1,10,100,1000,10000,100000,1000000],"labelExpr":"{'0.01':'10⁻²','0.1':'10⁻¹','1':'10⁰','10':'10¹','100':'10²','1000':'10³','10000':'10⁴','100000':'10⁵','1000000':'10⁶'}[datum.value]","domain":false,"ticks":false,"offset":-125,"labelFontSize":22,"labelPadding":14,"labelColor":"#333","title":"(Bq/kg)","titleFontSize":20,"titleFontWeight":"normal","titleColor":"#333","titlePadding":42,"titleAngle":270}},"y2":{"field":"b"},"color":{"field":"v","type":"quantitative","legend":null,"scale":{"type":"threshold","domain":[0.02,0.035,0.063,0.098,0.178,0.4,0.71,1.02,1.48,2.75,5.1,8.9,17.8,30.9,53.7,100,204,372,646,1202,2239,4169,7762,15136,26915,50119,97724,169824,301995,562341],"range":["#ffffff","#d9d9d9","#d4b4d4","#e49ce4","#ff66ff","#ee11ee","#c000e8","#a000e0","#9000e0","#7000c0","#1000c0","#0000e0","#0040ff","#00a0ff","#00c8ff","#00aaaa","#00c060","#10e030","#70f000","#b0f000","#e0f000","#ffff00","#ffc800","#ff9000","#ff5000","#ff0000","#d00000","#b00000","#800000","#500000","#000000"]}}}},
{"data":{"values":[{"t":0.1},{"t":1},{"t":10},{"t":100},{"t":1000},{"t":10000},{"t":100000},{"t":0.02},{"t":0.03},{"t":0.05},{"t":0.2},{"t":0.3},{"t":0.5},{"t":2},{"t":3},{"t":5},{"t":20},{"t":30},{"t":50},{"t":200},{"t":300},{"t":500},{"t":2000},{"t":3000},{"t":5000},{"t":20000},{"t":30000},{"t":50000},{"t":200000},{"t":300000},{"t":500000}]},"mark":{"type":"rule","color":"#111","strokeWidth":1,"opacity":0.75},"encoding":{"y":{"field":"t","type":"quantitative"},"x":{"datum":0},"x2":{"datum":0.14}}},
{"data":{"values":[{"t":0.1},{"t":1},{"t":10},{"t":100},{"t":1000},{"t":10000},{"t":100000},{"t":0.02},{"t":0.03},{"t":0.05},{"t":0.2},{"t":0.3},{"t":0.5},{"t":2},{"t":3},{"t":5},{"t":20},{"t":30},{"t":50},{"t":200},{"t":300},{"t":500},{"t":2000},{"t":3000},{"t":5000},{"t":20000},{"t":30000},{"t":50000},{"t":200000},{"t":300000},{"t":500000}]},"mark":{"type":"rule","color":"#111","strokeWidth":1,"opacity":0.75},"encoding":{"y":{"field":"t","type":"quantitative"},"x":{"datum":0.86},"x2":{"datum":1}}},
{"data":{"values":[{"x":0,"x2":1,"y":0.01,"y2":1000000}]},"mark":{"type":"rect","fill":null,"stroke":"#555","strokeWidth":1.5},"encoding":{"x":{"field":"x","type":"quantitative"},"x2":{"field":"x2"},"y":{"field":"y","type":"quantitative"},"y2":{"field":"y2"}}}
]}]}
